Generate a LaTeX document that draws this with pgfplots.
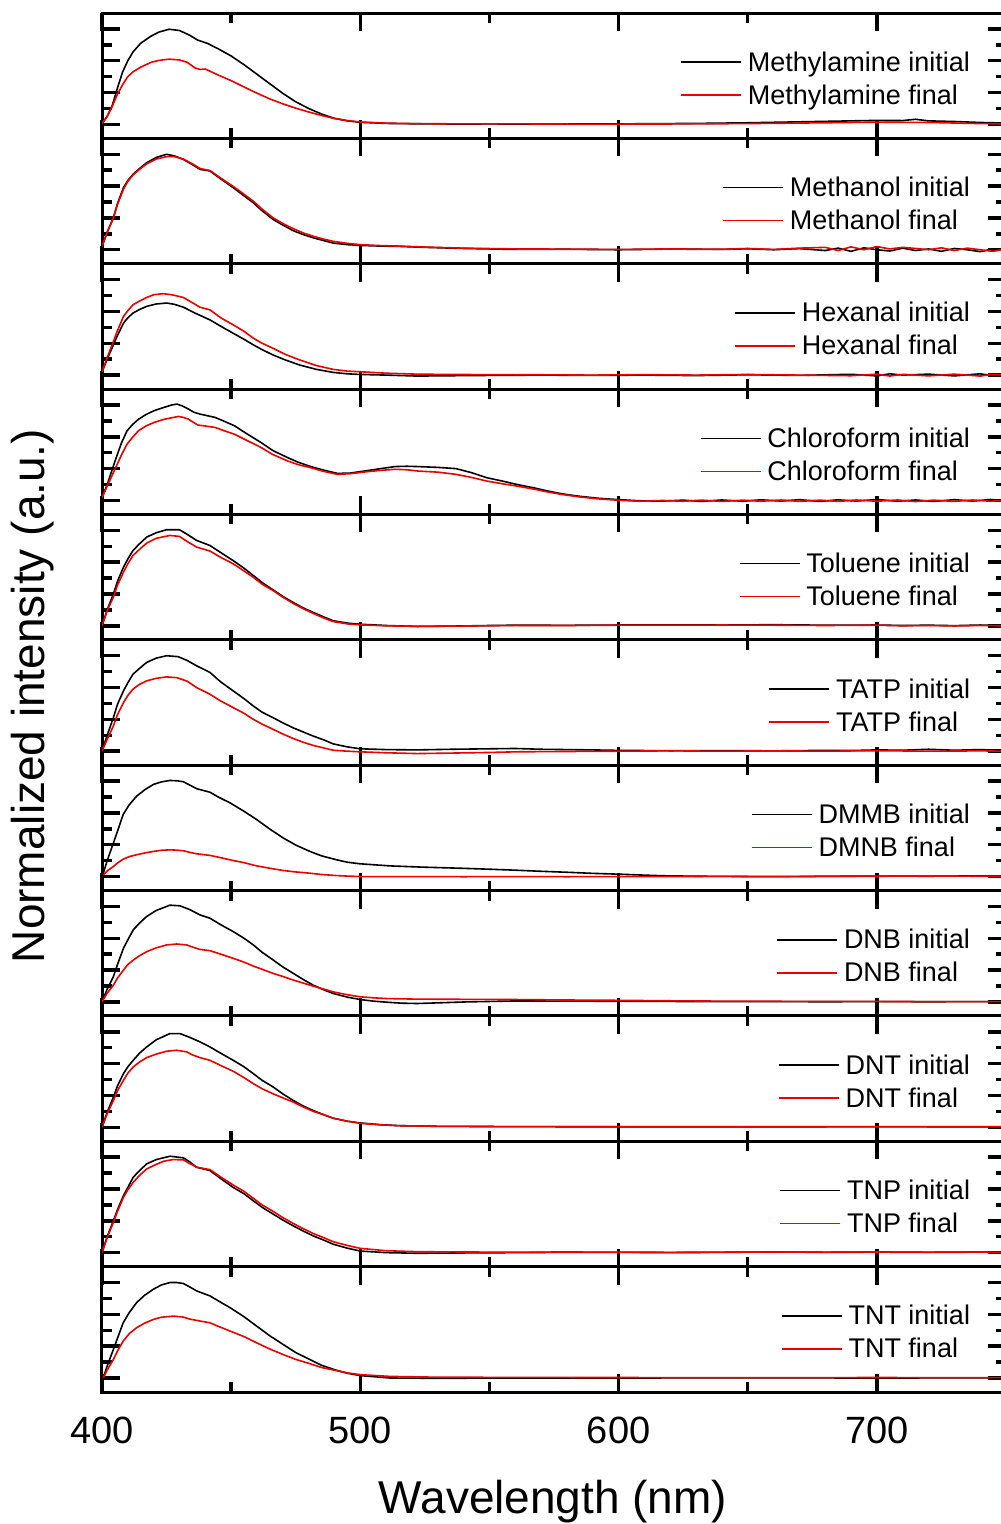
\documentclass[border=0pt]{standalone}
\usepackage{fontspec}
\setmainfont{Liberation Sans}
\usepackage{pgfplots}
\pgfplotsset{compat=1.18}
\definecolor{myred}{RGB}{235,0,0}
\pgfplotsset{
  panel/.style={
    scale only axis, width=452pt, height=62.68pt,
    xmin=400, xmax=750, ymin=-0.88, ymax=7.0,
    xtick={400,500,600,700}, minor xtick={450,550,650},
    ytick={0,2,4,6}, minor ytick={1,3,5},
    xticklabels={}, yticklabels={},
    axis line style={line width=1.5pt},
    major tick length=9pt, minor tick length=5pt,
    every tick/.style={line width=1.7pt, black},
    every axis plot/.append style={line width=0.8pt, line join=round},
    legend cell align=left,
    legend image code/.code={\path (0pt,0pt); \draw[##1] (0pt,2pt) -- (30pt,2pt);},
    legend style={draw=none, fill=none, font=\fontsize{13.5}{16}\selectfont,
      at={(0.9695,0.444)}, anchor=east, row sep=4.5pt, column sep=2pt,
      nodes={inner sep=1pt, text height=0.75em, text depth=0.25em}},
  }
}
\begin{document}
\begin{tikzpicture}
% 1 Methylamine
\begin{axis}[panel, at={(0pt,626.8pt)}, anchor=south west]
\addplot[black] coordinates {(400,0.05) (402,0.5) (404,1.2) (406,2.3) (408,3.3) (410,4.0) (412,4.55) (415,5.1) (419,5.55) (422,5.8) (426,5.98) (430,5.9) (434,5.6) (437,5.3) (441,5.08) (445,4.75) (450,4.3) (455,3.75) (460,3.15) (465,2.55) (470,1.95) (475,1.42) (480,1.0) (485,0.65) (490,0.38) (495,0.22) (500,0.13) (510,0.06) (520,0.04) (530,0.03) (540,0.02) (550,0.03) (560,0.02) (570,0.03) (580,0.02) (590,0.03) (600,0.03) (610,0.04) (620,0.05) (630,0.06) (640,0.08) (650,0.1) (660,0.13) (670,0.16) (680,0.19) (690,0.22) (700,0.25) (710,0.24) (715,0.32) (720,0.22) (730,0.18) (740,0.12) (750,0.08)};
\addplot[myred] coordinates {(400,0.05) (402,0.5) (404,1.15) (406,1.9) (408,2.5) (410,3.0) (412,3.3) (415,3.6) (419,3.9) (422,4.02) (426,4.1) (430,4.05) (433,3.9) (436,3.55) (438,3.45) (440,3.48) (445,3.1) (450,2.75) (455,2.35) (460,1.96) (465,1.6) (470,1.29) (475,1.02) (480,0.78) (485,0.56) (490,0.37) (495,0.24) (500,0.15) (510,0.08) (520,0.05) (530,0.04) (540,0.03) (560,0.03) (580,0.02) (600,0.02) (630,0.03) (650,0.05) (680,0.1) (700,0.14) (720,0.12) (740,0.05) (750,0.03)};
\legend{Methylamine initial, Methylamine final}
\end{axis}
% 2 Methanol
\begin{axis}[panel, at={(0pt,564.12pt)}, anchor=south west]
\addplot[black] coordinates {(400,0.2) (402,1.1) (404.4,2.0) (406,2.9) (408.3,3.9) (410,4.35) (412,4.74) (414.5,5.1) (417.3,5.47) (421,5.8) (425,6.0) (428,5.9) (431.5,5.68) (435,5.35) (438,5.05) (441.8,4.95) (446,4.45) (450.8,3.9) (454.5,3.45) (458.6,2.95) (462,2.45) (466.3,1.9) (470,1.55) (474,1.2) (478,0.95) (482,0.74) (486,0.57) (489.5,0.42) (495,0.32) (500,0.27) (508,0.23) (515,0.21) (525,0.15) (540,0.08) (560,0.02) (580,0.03) (600,0.0) (620,0.04) (640,0.02) (650,0.06) (660,0.0) (670,0.07) (680,-0.05) (685,0.1) (690,-0.1) (695,0.12) (700,0.0) (705,-0.08) (710,0.1) (715,-0.05) (720,0.05) (725,-0.1) (730,0.08) (735,0.0) (740,-0.12) (745,0.05) (750,-0.02)};
\addplot[myred] coordinates {(400,0.2) (402,1.1) (404.4,2.0) (406,2.85) (408.3,3.8) (410,4.3) (412,4.7) (414.5,5.05) (417.3,5.4) (421,5.7) (425,5.85) (428,5.85) (431.5,5.7) (435,5.4) (438,5.1) (441.8,4.98) (446,4.5) (450.8,3.98) (454.5,3.55) (458.6,3.05) (462,2.55) (466.3,2.0) (470,1.65) (474,1.33) (478,1.05) (482,0.84) (486,0.66) (489.5,0.53) (495,0.4) (500,0.32) (508,0.26) (515,0.23) (525,0.17) (540,0.1) (560,0.05) (580,0.04) (600,0.02) (620,0.05) (640,0.03) (650,0.08) (660,0.02) (670,0.1) (680,0.15) (685,-0.05) (690,0.18) (695,0.0) (700,0.2) (705,0.05) (710,0.15) (715,0.08) (720,0.0) (725,0.12) (730,-0.05) (735,0.1) (740,0.0) (745,-0.1) (750,0.05)};
\legend{Methanol initial, Methanol final}
\end{axis}
% 3 Hexanal
\begin{axis}[panel, at={(0pt,501.44pt)}, anchor=south west]
\addplot[black] coordinates {(400,0.2) (402,1.0) (404.4,1.9) (406,2.5) (408.3,3.26) (410,3.6) (412,3.9) (414.5,4.12) (417.3,4.32) (421,4.47) (425,4.53) (428,4.45) (431.5,4.27) (436,3.9) (441.8,3.47) (446,3.07) (450.8,2.63) (455,2.25) (458.6,1.9) (462,1.6) (466.3,1.26) (471,0.95) (476.6,0.63) (483,0.36) (489.5,0.17) (495,0.08) (500,0.04) (510,0.0) (522,-0.06) (535,-0.04) (550,-0.02) (570,0.0) (590,-0.02) (610,0.0) (630,-0.03) (650,0.02) (670,-0.02) (690,0.05) (700,-0.05) (705,0.08) (710,0.0) (720,0.06) (730,-0.05) (740,0.08) (745,-0.04) (750,0.04)};
\addplot[myred] coordinates {(400,0.2) (402,1.1) (404.4,2.1) (406,2.8) (408.3,3.68) (410,4.05) (412,4.42) (414.5,4.65) (417.3,4.88) (420,5.05) (423.7,5.12) (427,5.05) (431.5,4.88) (435,4.55) (437.9,4.27) (441.8,4.1) (446,3.6) (450.8,3.16) (455,2.75) (458.6,2.32) (462,2.0) (466.3,1.68) (471,1.3) (476.6,0.95) (483,0.6) (489.5,0.36) (495,0.25) (500,0.21) (510,0.12) (522,0.06) (535,0.04) (550,0.03) (570,0.02) (590,0.0) (610,0.03) (630,0.0) (650,0.04) (670,0.0) (690,-0.04) (700,0.06) (705,-0.06) (710,0.05) (720,-0.05) (730,0.06) (740,-0.06) (745,0.05) (750,0.0)};
\legend{Hexanal initial, Hexanal final}
\end{axis}
% 4 Chloroform
\begin{axis}[panel, at={(0pt,438.76pt)}, anchor=south west]
\addplot[black] coordinates {(400,0.17) (402,1.0) (405.3,2.6) (407.5,3.6) (409.7,4.38) (412,4.8) (414.1,5.1) (417,5.4) (420.1,5.64) (424,5.85) (427,6.0) (429,6.06) (431,5.95) (433.4,5.75) (435.5,5.55) (437.9,5.43) (443.8,5.22) (447,5.0) (451.2,4.7) (456,4.2) (461.6,3.64) (466,3.15) (471.9,2.69) (476,2.4) (480.8,2.13) (486,1.9) (491.2,1.7) (496,1.72) (501.6,1.85) (507,1.98) (513.4,2.13) (518,2.15) (522.3,2.13) (530,2.08) (537.1,2.0) (543,1.75) (549,1.43) (555,1.22) (560.8,1.0) (567,0.8) (572.7,0.59) (578,0.42) (584.5,0.27) (592,0.14) (599.3,0.06) (608,-0.02) (617,-0.04) (625,0.02) (632,-0.06) (640,0.03) (648,-0.05) (655,0.04) (663,-0.04) (670,0.05) (678,-0.06) (685,0.04) (692,-0.04) (700,0.06) (708,-0.05) (715,0.03) (722,-0.06) (730,0.05) (737,-0.04) (744,0.06) (750,-0.03)};
\addplot[myred] coordinates {(400,0.17) (402,0.9) (405.3,2.06) (407.5,2.85) (409.7,3.54) (412,4.0) (414.1,4.38) (417,4.68) (420.1,4.9) (424,5.1) (427,5.2) (429.7,5.28) (431.5,5.22) (433.4,5.12) (435,4.95) (437.1,4.74) (440,4.68) (443.8,4.59) (447,4.4) (451.2,4.17) (456,3.78) (461.6,3.33) (466,2.9) (471.9,2.48) (476,2.25) (480.8,2.06) (486,1.82) (491.2,1.64) (496,1.68) (501.6,1.79) (507,1.88) (513.4,1.96) (518,1.93) (522.3,1.85) (530,1.78) (537.1,1.64) (543,1.45) (549,1.22) (555,1.05) (560.8,0.9) (567,0.72) (572.7,0.53) (578,0.38) (584.5,0.23) (592,0.1) (599.3,0.02) (608,-0.05) (617,0.0) (625,-0.05) (632,0.02) (640,-0.06) (648,0.02) (655,-0.05) (663,0.03) (670,-0.06) (678,0.02) (685,-0.06) (692,0.03) (700,-0.05) (708,0.03) (715,-0.07) (722,0.02) (730,-0.06) (737,0.03) (744,-0.05) (750,0.02)};
\legend{Chloroform initial, Chloroform final}
\end{axis}
% 5 Toluene
\begin{axis}[panel, at={(0pt,376.08pt)}, anchor=south west]
\addplot[black] coordinates {(400,0.0) (402,1.0) (404.4,2.0) (406,2.8) (408.3,3.68) (410,4.2) (412,4.74) (414.5,5.15) (417.3,5.58) (421,5.85) (425,6.04) (430,6.04) (433,5.75) (436.6,5.37) (441.8,5.05) (446,4.6) (450.8,4.1) (455,3.62) (458.6,3.16) (462,2.72) (466.3,2.25) (470,1.85) (474,1.47) (478,1.12) (481.8,0.84) (486,0.55) (489.5,0.32) (495,0.17) (500,0.1) (510,0.02) (522,-0.04) (535,-0.02) (550,0.02) (560,0.04) (580,0.03) (600,0.05) (620,0.06) (640,0.05) (660,0.07) (680,0.04) (700,0.05) (710,0.02) (720,0.04) (730,0.01) (740,0.05) (750,0.02)};
\addplot[myred] coordinates {(400,0.0) (402,0.95) (404.4,1.8) (406,2.55) (408.3,3.37) (410,3.9) (412,4.42) (414.5,4.8) (417.3,5.2) (421,5.5) (426.3,5.68) (430,5.62) (433,5.3) (436.6,4.95) (441.8,4.7) (446,4.3) (450.8,3.9) (455,3.45) (458.6,3.05) (462,2.62) (466.3,2.21) (470,1.8) (474,1.41) (478,1.07) (481.8,0.78) (486,0.48) (489.5,0.27) (495,0.12) (500,0.06) (510,0.0) (522,-0.03) (535,-0.02) (550,0.0) (560,0.02) (580,0.02) (600,0.04) (620,0.04) (640,0.05) (660,0.04) (680,0.02) (700,0.04) (710,0.0) (720,0.02) (730,-0.01) (740,0.02) (750,0.0)};
\legend{Toluene initial, Toluene final}
\end{axis}
% 6 TATP
\begin{axis}[panel, at={(0pt,313.4pt)}, anchor=south west]
\addplot[black] coordinates {(400,0.0) (402,1.0) (404.4,2.1) (406,2.95) (408.3,3.79) (410,4.3) (412,4.84) (414.5,5.2) (417.3,5.58) (421,5.85) (425,6.0) (429.5,5.94) (433,5.7) (436.6,5.37) (441.8,4.95) (446,4.35) (450.8,3.79) (455,3.3) (458.6,2.84) (462,2.45) (466.3,2.1) (470,1.78) (474,1.47) (478,1.2) (481.8,0.95) (486,0.7) (489.5,0.46) (495,0.27) (500,0.15) (510,0.1) (522,0.08) (535,0.12) (550,0.15) (560,0.17) (570,0.12) (580,0.1) (590,0.08) (600,0.05) (620,0.03) (640,0.04) (660,0.02) (680,0.05) (690,0.04) (700,0.08) (710,0.06) (720,0.12) (730,0.06) (740,0.1) (750,0.04)};
\addplot[myred] coordinates {(400,0.0) (402,0.75) (404.4,1.58) (406,2.3) (408.3,3.05) (410,3.5) (412,3.9) (414.5,4.2) (417.3,4.42) (421,4.58) (425,4.67) (429,4.62) (433,4.4) (436.6,4.0) (441.8,3.58) (446,3.15) (450.8,2.74) (455,2.38) (458.6,2.0) (462,1.7) (466.3,1.37) (470,1.08) (474,0.8) (478,0.56) (481.8,0.36) (486,0.2) (489.5,0.06) (495,0.0) (500,-0.04) (510,-0.1) (522,-0.15) (535,-0.12) (550,-0.08) (560,-0.04) (580,-0.02) (600,0.0) (620,0.02) (640,0.0) (660,0.02) (680,0.0) (700,0.03) (720,0.0) (740,0.02) (750,0.0)};
\legend{TATP initial, TATP final}
\end{axis}
% 7 DMMB
\begin{axis}[panel, at={(0pt,250.72pt)}, anchor=south west]
\addplot[black] coordinates {(400.5,0.2) (402,1.0) (404.4,2.1) (406,2.85) (408.2,3.9) (410.5,4.5) (413.4,5.05) (416.5,5.45) (419.9,5.79) (423,5.95) (426.3,6.04) (429,6.02) (431.5,5.96) (434,5.75) (436.7,5.52) (441.8,5.3) (445,5.0) (449.6,4.63) (455,4.1) (459.9,3.58) (465,2.98) (470.2,2.42) (475,1.98) (480.5,1.58) (485,1.3) (490.9,1.05) (495,0.9) (500,0.8) (511.5,0.67) (524.4,0.59) (537.3,0.53) (550.2,0.46) (560,0.4) (570,0.33) (580,0.27) (590,0.2) (600,0.15) (608,0.1) (617,0.05) (630,0.02) (650,0.0) (670,0.0) (690,0.02) (700,0.03) (720,0.02) (740,0.04) (750,0.03)};
\addplot[myred] coordinates {(400.5,0.1) (402,0.35) (404.4,0.63) (406,0.85) (408.2,1.09) (410.5,1.25) (413.4,1.37) (416.5,1.48) (419.9,1.58) (423,1.65) (426.3,1.68) (429,1.66) (431.5,1.62) (434,1.52) (436.7,1.43) (441.8,1.33) (445,1.22) (449.6,1.05) (455,0.87) (459.9,0.67) (465,0.52) (470.2,0.38) (475,0.29) (480.5,0.21) (485,0.13) (490.9,0.06) (495,0.03) (500,0.0) (520,0.0) (540,-0.01) (560,0.0) (580,-0.01) (600,0.0) (620,0.0) (640,0.01) (660,0.0) (680,0.02) (700,0.02) (720,0.03) (740,0.02) (750,0.02)};
\legend{DMMB initial, DMNB final}
\end{axis}
% 8 DNB
\begin{axis}[panel, at={(0pt,188.04pt)}, anchor=south west]
\addplot[black] coordinates {(400,0.0) (402,0.8) (404.4,1.58) (406,2.35) (408.3,3.37) (410,3.9) (412.1,4.53) (414.5,4.95) (417.3,5.37) (421,5.75) (426.3,6.08) (430.2,6.04) (434,5.8) (437.9,5.47) (441.8,5.26) (446,4.85) (450.8,4.42) (455,4.0) (458.6,3.58) (462,3.12) (466.3,2.63) (470,2.2) (474.1,1.79) (478,1.4) (481.8,1.05) (486,0.75) (489.5,0.53) (495,0.3) (500,0.15) (505,0.05) (510.3,-0.02) (516,-0.08) (522,-0.1) (530,-0.06) (541,0.0) (560,0.06) (580,0.05) (600,0.04) (620,0.03) (640,0.02) (660,0.02) (680,0.01) (700,0.02) (720,0.01) (740,0.02) (750,0.01)};
\addplot[myred] coordinates {(400,0.0) (402,0.55) (404.4,1.05) (406,1.5) (408.3,2.0) (410,2.35) (412.1,2.63) (414.5,2.9) (417.3,3.16) (421,3.4) (425,3.58) (428.9,3.64) (432.8,3.58) (435,3.45) (437.9,3.3) (441.8,3.22) (446,3.0) (450.8,2.74) (455,2.5) (458.6,2.25) (462,2.05) (466.3,1.79) (470,1.6) (474.1,1.37) (478,1.18) (481.8,0.99) (486,0.8) (489.5,0.63) (495,0.45) (500,0.32) (505,0.26) (510.3,0.21) (520,0.18) (530,0.17) (545,0.16) (560,0.15) (580,0.12) (600,0.1) (620,0.07) (640,0.05) (660,0.04) (680,0.03) (700,0.03) (720,0.02) (740,0.02) (750,0.02)};
\legend{DNB initial, DNB final}
\end{axis}
% 9 DNT
\begin{axis}[panel, at={(0pt,125.36pt)}, anchor=south west]
\addplot[black] coordinates {(400,0.0) (402,0.95) (404.4,1.89) (406,2.6) (408.3,3.37) (410,3.8) (412.1,4.21) (414.5,4.65) (417.3,5.05) (421,5.5) (426.3,5.89) (430.2,5.89) (434,5.65) (437.9,5.37) (441.8,5.05) (446,4.65) (450.8,4.21) (455,3.8) (458.6,3.37) (462,2.95) (466.3,2.53) (470,2.1) (474.1,1.68) (478,1.33) (481.8,1.05) (486,0.78) (489.5,0.57) (495,0.38) (500,0.27) (508,0.16) (515,0.1) (530,0.06) (560,0.04) (600,0.03) (650,0.03) (700,0.04) (750,0.03)};
\addplot[myred] coordinates {(400,0.0) (402,0.85) (404.4,1.68) (406,2.3) (408.3,2.95) (410,3.4) (412.1,3.79) (414.5,4.1) (417.3,4.38) (421,4.6) (425,4.78) (428.9,4.84) (432.8,4.74) (435,4.55) (437.9,4.38) (441.8,4.21) (446,3.88) (450.8,3.52) (455,3.12) (458.6,2.74) (462,2.42) (466.3,2.1) (470,1.85) (474.1,1.58) (478,1.27) (481.8,1.0) (486,0.78) (489.5,0.57) (495,0.38) (500,0.25) (508,0.15) (515,0.1) (530,0.06) (560,0.04) (600,0.03) (650,0.02) (700,0.03) (750,0.02)};
\legend{DNT initial, DNT final}
\end{axis}
% 10 TNP
\begin{axis}[panel, at={(0pt,62.68pt)}, anchor=south west]
\addplot[black] coordinates {(400,0.0) (402,1.0) (404.4,2.0) (406,2.7) (408.3,3.58) (410,4.1) (412.1,4.74) (414.5,5.15) (417.3,5.58) (421,5.85) (426.3,6.06) (431.5,5.96) (434,5.7) (436.6,5.37) (441.8,5.16) (446,4.65) (450.8,4.1) (455,3.7) (458.6,3.26) (462,2.85) (466.3,2.42) (470,2.05) (474.1,1.68) (478,1.35) (481.8,1.05) (486,0.78) (489.5,0.53) (495,0.28) (500,0.1) (510,0.0) (522,-0.04) (540,-0.02) (560,0.0) (580,0.02) (600,0.02) (620,0.0) (640,0.02) (660,0.04) (680,0.02) (700,0.03) (720,0.02) (740,0.03) (750,0.02)};
\addplot[myred] coordinates {(400,0.0) (402,0.95) (404.4,1.9) (406,2.6) (408.3,3.47) (410,3.95) (412.1,4.42) (414.5,4.85) (417.3,5.26) (421,5.55) (424,5.75) (427.6,5.85) (431.5,5.83) (434,5.6) (436.6,5.37) (441.8,5.22) (446,4.75) (450.8,4.25) (455,3.85) (458.6,3.41) (462,3.0) (466.3,2.59) (470,2.2) (474.1,1.83) (478,1.5) (481.8,1.2) (486,0.93) (489.5,0.69) (495,0.45) (500,0.27) (510,0.12) (522,0.06) (540,0.04) (560,0.03) (580,0.04) (600,0.03) (620,0.02) (640,0.03) (660,0.04) (680,0.03) (700,0.04) (720,0.03) (740,0.04) (750,0.03)};
\legend{TNP initial, TNP final}
\end{axis}
% 11 TNT
\begin{axis}[panel, at={(0pt,0pt)}, anchor=south west,
  xticklabels={400,500,600,700},
  xticklabel style={anchor=base, yshift=-25.75pt, font=\fontsize{19}{19}\selectfont}]
\addplot[black] coordinates {(400.5,0.0) (402,0.75) (404.4,1.79) (406,2.5) (408.2,3.47) (410.5,4.1) (413.4,4.74) (416.5,5.2) (419.9,5.58) (423,5.85) (426.3,6.0) (429,6.0) (431.5,5.94) (434,5.72) (436.7,5.47) (441.8,5.16) (445,4.85) (449.6,4.42) (455,3.85) (459.9,3.26) (465,2.65) (470.2,2.1) (475,1.6) (480.5,1.16) (485,0.8) (490.9,0.48) (495,0.3) (500,0.15) (511.5,0.0) (530,-0.02) (560,0.0) (600,0.0) (650,0.01) (700,0.0) (750,0.01)};
\addplot[myred] coordinates {(400.5,0.0) (402,0.5) (404.4,1.16) (406,1.7) (408.2,2.32) (410.5,2.78) (413.4,3.16) (416.5,3.45) (419.9,3.68) (423,3.82) (427.6,3.89) (431.5,3.83) (434,3.7) (438,3.58) (441.8,3.47) (445,3.25) (449.6,2.95) (455,2.6) (459.9,2.21) (465,1.82) (470.2,1.47) (475,1.17) (480.5,0.9) (485,0.66) (490.9,0.46) (495,0.32) (500,0.21) (511.5,0.1) (530,0.05) (560,0.04) (600,0.03) (650,0.02) (700,0.03) (750,0.02)};
\legend{TNT initial, TNT final}
\end{axis}
\node[rotate=90, font=\fontsize{23}{23}\selectfont] at (-34.5pt,348pt) {Normalized intensity (a.u.)};
\node[anchor=base, font=\fontsize{23}{23}\selectfont] at (225.5pt,-60.5pt) {Wavelength (nm)};
\pgfresetboundingbox
\useasboundingbox (-51pt,-66pt) rectangle (449pt,696pt);
\end{tikzpicture}
\end{document}
